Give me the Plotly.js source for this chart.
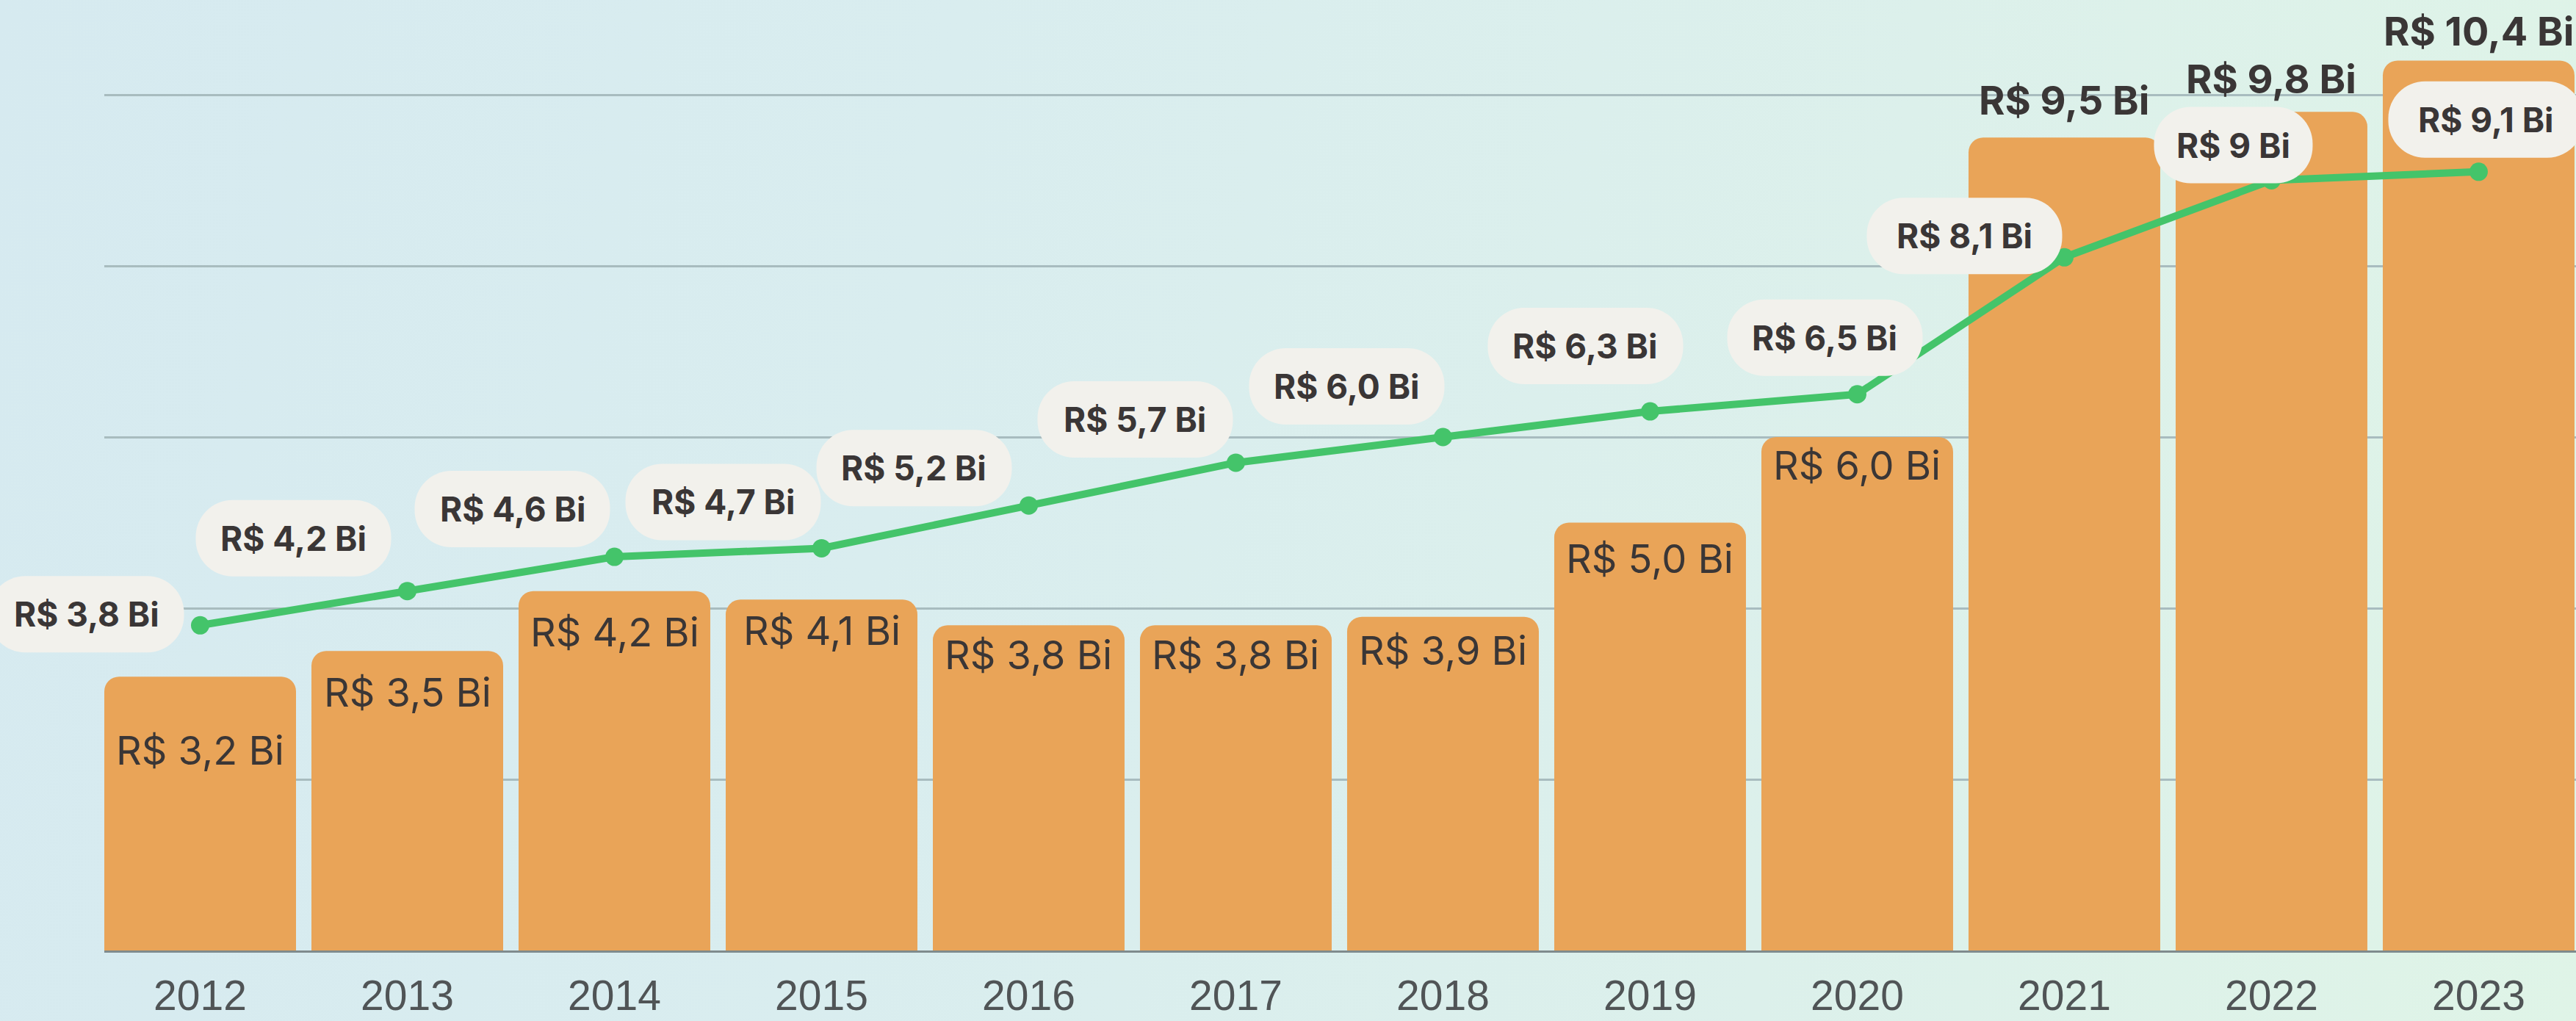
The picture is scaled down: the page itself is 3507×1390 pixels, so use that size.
<!DOCTYPE html>
<html>
<head>
<meta charset="utf-8">
<script src="https://cdn.plot.ly/plotly-3.0.1.min.js"></script>
<style>
  html, body { margin: 0; padding: 0; width: 3507px; height: 1390px; overflow: hidden;
    background: linear-gradient(100deg, #d6eaf0 0%, #d9edef 35%, #dcf0eb 70%, #dff4e7 100%); }
  #chart { width: 3507px; height: 1390px; }
</style>
</head>
<body>
<div id="chart"></div>
<script>
// ---------------- data ----------------
const years = [2012, 2013, 2014, 2015, 2016, 2017, 2018, 2019, 2020, 2021, 2022, 2023];
const yearLabels = ['2012', '2013', '2014', '2015', '2016', '2017', '2018', '2019', '2020', '2021', '2022', '2023'];
const barValues = [3.2, 3.5, 4.2, 4.1, 3.8, 3.8, 3.9, 5.0, 6.0, 9.5, 9.8, 10.4];
const barLabels = ['R$ 3,2 Bi', 'R$ 3,5 Bi', 'R$ 4,2 Bi', 'R$ 4,1 Bi', 'R$ 3,8 Bi', 'R$ 3,8 Bi',
                   'R$ 3,9 Bi', 'R$ 5,0 Bi', 'R$ 6,0 Bi', 'R$ 9,5 Bi', 'R$ 9,8 Bi', 'R$ 10,4 Bi'];
const lineValues = [3.8, 4.2, 4.6, 4.7, 5.2, 5.7, 6.0, 6.3, 6.5, 8.1, 9.0, 9.1];
const lineLabels = ['R$ 3,8 Bi', 'R$ 4,2 Bi', 'R$ 4,6 Bi', 'R$ 4,7 Bi', 'R$ 5,2 Bi', 'R$ 5,7 Bi',
                    'R$ 6,0 Bi', 'R$ 6,3 Bi', 'R$ 6,5 Bi', 'R$ 8,1 Bi', 'R$ 9 Bi', 'R$ 9,1 Bi'];

// ---------------- label placement (style, pixels) ----------------
// bubble centre offset from its point: [right, down]
const bubbleOffset = [[-155, -15], [-155, -72], [-139, -65], [-134, -63], [-156, -51], [-137, -59],
                      [-131, -69], [-88, -89], [-44, -77], [-136, -29], [-52, -48], [10, -71]];
// bar label: 'in' = inside near the top (regular), 'out' = above the bar (bold)
const barLabelPlace = ['in', 'in', 'in', 'in', 'in', 'in', 'in', 'in', 'in', 'out', 'out', 'out'];
const barLabelShift = [-100, -56, -56, -42, -40, -40, -46, -49, -38, 51, 45, 40];

// ---------------- styles ----------------
const BAR_COLOR = '#e9a458';
const LINE_COLOR = '#44c46a';
const BUBBLE_COLOR = '#f2f1ec';
const TEXT_COLOR = '#3a3636';
const PX_PER_UNIT = 116.5;
const PLOT_H = 1294;

const traces = [
  {
    type: 'bar', x: years, y: barValues,
    marker: { color: BAR_COLOR, cornerradius: 20, line: { width: 0 } },
    hoverinfo: 'skip'
  },
  {
    type: 'scatter', mode: 'lines+markers', x: years, y: lineValues,
    line: { color: LINE_COLOR, width: 10 },
    marker: { color: LINE_COLOR, size: 25 },
    cliponaxis: false, hoverinfo: 'skip'
  }
];

const annotations = [];
years.forEach((yr, i) => {
  const out = barLabelPlace[i] === 'out';
  annotations.push({
    x: yr, y: barValues[i], xref: 'x', yref: 'y', showarrow: false,
    text: barLabels[i], yanchor: 'middle', xanchor: 'center', yshift: barLabelShift[i],
    font: { family: 'Inter, "Noto Sans", sans-serif', size: 54, color: TEXT_COLOR, weight: out ? 700 : 400 }
  });
  annotations.push({
    x: yr, y: lineValues[i], xref: 'x', yref: 'y', showarrow: false,
    text: lineLabels[i], yanchor: 'middle', xanchor: 'center',
    xshift: bubbleOffset[i][0], yshift: -bubbleOffset[i][1],
    font: { family: 'Inter, "Noto Sans", sans-serif', size: 46, color: TEXT_COLOR, weight: 700 }
  });
});

const layout = {
  width: 3507, height: 1390,
  margin: { l: 142, r: 0, t: 0, b: 1390 - PLOT_H, pad: 0 },
  paper_bgcolor: 'rgba(0,0,0,0)', plot_bgcolor: 'rgba(0,0,0,0)',
  showlegend: false, hovermode: false,
  bargap: 0.0745,
  xaxis: {
    type: 'linear', range: [2012 - 0.4628, 2012 + 11.47],
    tickvals: years, ticktext: yearLabels,
    showgrid: false, zeroline: false,
    showline: true, linecolor: '#7f8b8d', linewidth: 3,
    ticks: '', ticklabelstandoff: 10,
    tickfont: { family: '"Liberation Sans", Arial, sans-serif', size: 57, color: '#505456' }
  },
  yaxis: {
    range: [0, PLOT_H / PX_PER_UNIT], tick0: 0, dtick: 2,
    showticklabels: false, zeroline: false, showline: false,
    showgrid: true, gridcolor: '#a8bcbf', gridwidth: 3
  },
  annotations: annotations
};

function pill(cx, cy, w, h, r) {
  const a = w / 2, b = h / 2, k = 0.5523 * r;
  const f = v => v.toFixed(2);
  return [
    'M', f(cx - a + r), f(cy + b),
    'L', f(cx + a - r), f(cy + b),
    'C', f(cx + a - r + k), f(cy + b), f(cx + a), f(cy + b - r + k), f(cx + a), f(cy + b - r),
    'L', f(cx + a), f(cy - b + r),
    'C', f(cx + a), f(cy - b + r - k), f(cx + a - r + k), f(cy - b), f(cx + a - r), f(cy - b),
    'L', f(cx - a + r), f(cy - b),
    'C', f(cx - a + r - k), f(cy - b), f(cx - a), f(cy - b + r - k), f(cx - a), f(cy - b + r),
    'L', f(cx - a), f(cy + b - r),
    'C', f(cx - a), f(cy + b - r + k), f(cx - a + r - k), f(cy + b), f(cx - a + r), f(cy + b),
    'Z'
  ].join(' ');
}

const gd = document.getElementById('chart');
Plotly.newPlot(gd, traces, layout, { staticPlot: true, displayModeBar: false }).then(() => {
  const xa = gd._fullLayout.xaxis, ya = gd._fullLayout.yaxis;
  const shapes = years.map((yr, i) => {
    const fx = xa.l2p(yr) / xa._length;
    const fy = 1 - ya.l2p(lineValues[i]) / ya._length;
    const w = lineLabels[i].length <= 7 ? 216 : 266;
    const h = 104;
    return {
      type: 'path', xref: 'paper', yref: 'paper',
      xsizemode: 'pixel', ysizemode: 'pixel', xanchor: fx, yanchor: fy,
      path: pill(bubbleOffset[i][0], -bubbleOffset[i][1], w, h, 50),
      fillcolor: BUBBLE_COLOR, line: { width: 0 }, layer: 'above'
    };
  });
  return Plotly.relayout(gd, { shapes: shapes });
});
</script>
</body>
</html>
